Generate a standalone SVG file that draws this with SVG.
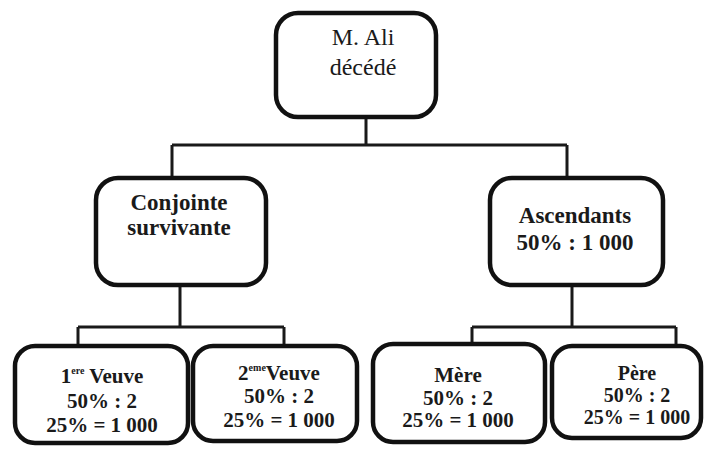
<svg xmlns="http://www.w3.org/2000/svg" width="708" height="449" viewBox="0 0 708 449">
<style>
.box{fill:#fff;stroke:#111;stroke-width:4.5}
.ln{fill:none;stroke:#1a1a1a;stroke-width:3}
text{fill:#1a1a1a;text-anchor:middle}
.r{font-size:24px}
.b{font-size:23px;font-weight:bold}
.s{font-size:21px;font-weight:bold}
.p{font-size:20px;font-weight:bold}
.sup{font-size:10px}
</style>
<rect width="708" height="449" fill="#fff"/>
<g id="connectors">
<path class="ln" d="M366 117V145M172 145H567M172 145V178M567 145V178"/>
<path class="ln" d="M180 285V327M78 327H284M78 327V346M284 327V346"/>
<path class="ln" d="M572 285V327M472 327H676M472 327V344M676 327V346"/>
</g>
<g font-family="Liberation Serif, serif">
<g id="n-ali">
<rect class="box" x="276" y="13" width="160" height="104" rx="22"/>
<text class="r" x="363" y="45">M. Ali</text>
<text class="r" x="363" y="75">décédé</text>
</g>
<g id="n-conjointe">
<rect class="box" x="96" y="178" width="170" height="107" rx="22"/>
<text class="b" x="179" y="210">Conjointe</text>
<text class="b" x="179" y="235">survivante</text>
</g>
<g id="n-ascendants">
<rect class="box" x="490" y="178" width="173" height="107" rx="22"/>
<text class="b" x="575" y="223">Ascendants</text>
<text class="b" x="575" y="250">50% : 1 000</text>
</g>
<g id="n-veuve1">
<rect class="box" x="15" y="346" width="173" height="97" rx="20"/>
<text class="s" x="102" y="383">1<tspan class="sup" dy="-9">ere</tspan><tspan dy="9"> Veuve</tspan></text>
<text class="s" x="102" y="408">50% : 2</text>
<text class="s" x="102" y="432">25% = 1 000</text>
</g>
<g id="n-veuve2">
<rect class="box" x="193" y="346" width="164" height="95" rx="20"/>
<text class="s" x="279" y="380">2<tspan class="sup" dy="-9">eme</tspan><tspan dy="9">Veuve</tspan></text>
<text class="s" x="279" y="403">50% : 2</text>
<text class="s" x="279" y="427">25% = 1 000</text>
</g>
<g id="n-mere">
<rect class="box" x="373" y="344" width="172" height="98" rx="20"/>
<text class="s" x="458" y="382">Mère</text>
<text class="s" x="458" y="405">50% : 2</text>
<text class="s" x="458" y="427">25% = 1 000</text>
</g>
<g id="n-pere">
<rect class="box" x="552" y="346" width="149" height="92" rx="20"/>
<text class="p" x="637" y="380">Père</text>
<text class="p" x="637" y="402">50% : 2</text>
<text class="p" x="637" y="424">25% = 1 000</text>
</g>
</g>
</svg>
